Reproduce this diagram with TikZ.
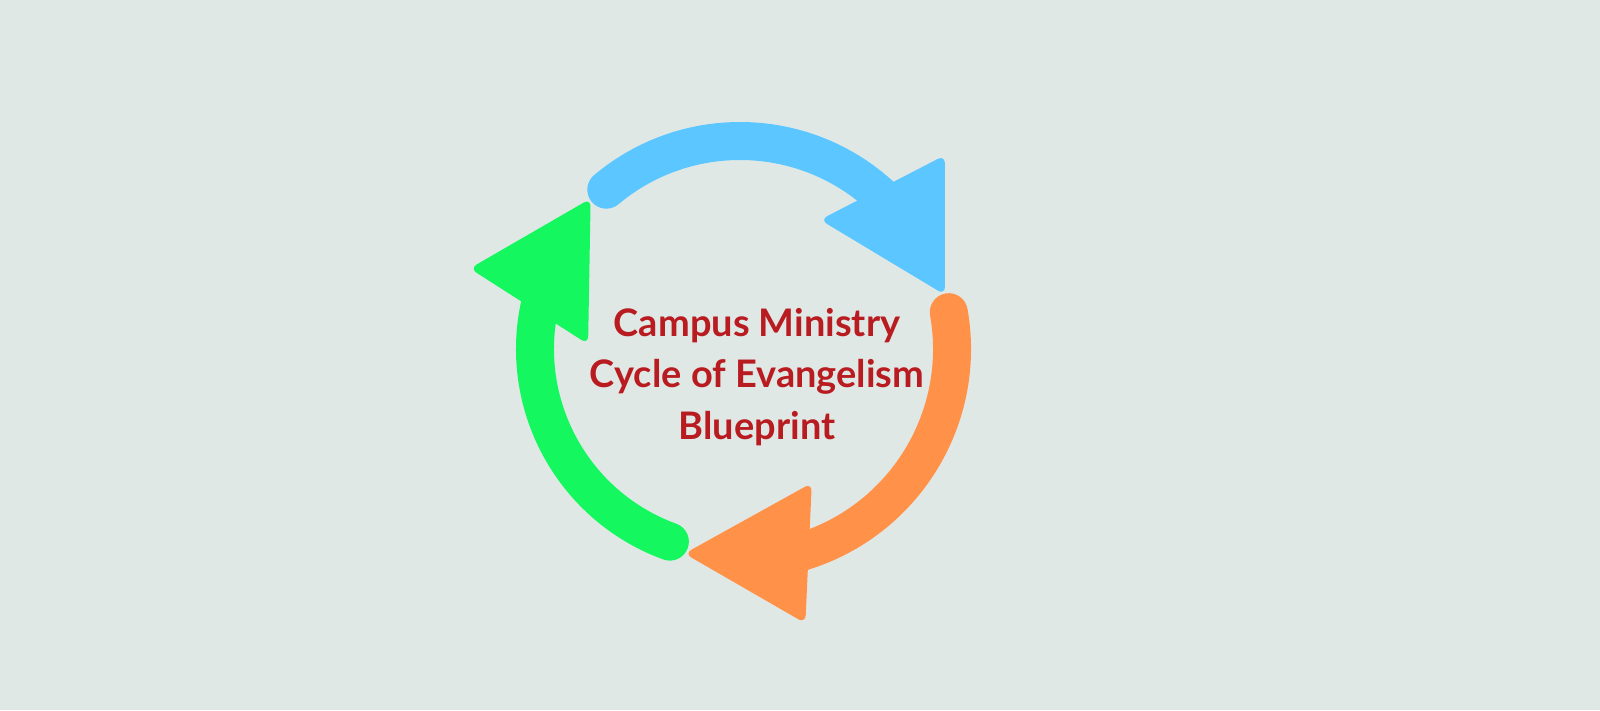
\documentclass[tikz,border=0pt]{standalone}
\usepackage{fontspec}
\setmainfont{Lato}
\definecolor{bg}{RGB}{224,232,230}
\definecolor{cycblue}{RGB}{91,198,255}
\definecolor{cycorange}{RGB}{255,146,72}
\definecolor{cycgreen}{RGB}{21,247,94}
\definecolor{titlered}{RGB}{185,28,32}

\begin{document}
\begin{tikzpicture}[shaft/.style={line width=3.8mm,line cap=round},
head/.style={rounded corners=0.8mm},
title/.style={text=titlered,align=center,font=\bfseries\fontsize{10.8}{14.6}\selectfont}]
\fill[bg](0,0)rectangle(16,7.1);
\useasboundingbox(0,0)rectangle(16,7.1);
\begin{scope}[shift={(7.40,3.61)}]
% blue arrow
\draw[shaft,cycblue](130:2.08)arc[start angle=130,end angle=47,radius=2.08];
\fill[head,cycblue](58.2:1.52)--(43.4:2.82)--(14.8:2.12)--cycle;
% orange arrow
\draw[shaft,cycorange](10:2.12)arc[start angle=10,end angle=-73,radius=2.12];
\fill[head,cycorange](-61.8:1.52)--(-76.6:2.82)--(-105.2:2.12)--cycle;
% green arrow
\draw[shaft,cycgreen](250:2.05)arc[start angle=250,end angle=167,radius=2.05];
\fill[head,cycgreen](178.2:1.52)--(163.4:2.82)--(134.8:2.12)--cycle;
\end{scope}
\node[title](t)at(7.57,3.33){Campus Ministry\\Cycle of Evangelism\\Blueprint};
\end{tikzpicture}
\end{document}
